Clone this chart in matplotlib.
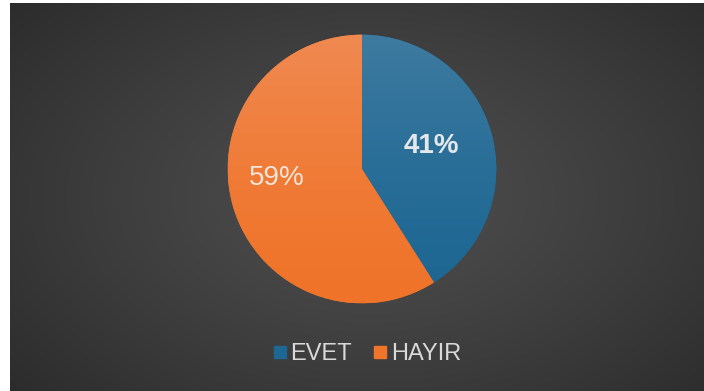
import numpy as np
import matplotlib
matplotlib.use("Agg")
import matplotlib.pyplot as plt
from matplotlib.lines import Line2D

labels = ["EVET", "HAYIR"]
values = [41, 59]
colors = ["#1d6793", "#f0742a"]
top_colors = ["#3f7ba0", "#ef8a52"]

W, H = 704, 391
fig = plt.figure(figsize=(W / 100, H / 100), dpi=100, facecolor="white")

# dark backdrop with a soft radial glow
bg = fig.add_axes([10 / W, 0, (W - 10) / W, (H - 3) / H])
bg.set_axis_off()
yy, xx = np.mgrid[0:1:300j, 0:1:500j]
d = np.sqrt(((xx - 0.52) / 0.75) ** 2 + ((yy - 0.5) / 0.85) ** 2)
d = np.clip(d, 0, 1)
c_in, c_out = 0x4e, 0x28
g = (c_in + (c_out - c_in) * d ** 1.2) / 255.0
bg.imshow(np.dstack([g, g, g]), extent=[0, 1, 0, 1], aspect="auto", origin="lower")
bg.set_xlim(0, 1)
bg.set_ylim(0, 1)

# pie
cx, cy, r = 362, H - 169, 137
ax = fig.add_axes([(cx - r) / W, (cy - r) / H, 2 * r / W, 2 * r / H])
ax.set_axis_off()
wedges, texts, autotexts = ax.pie(
    values, colors=colors, startangle=90, counterclock=False,
    autopct="%.0f%%", pctdistance=0.55, radius=1,
    wedgeprops=dict(linewidth=0),
)
ax.set_xlim(-1.02, 1.02)
ax.set_ylim(-1.02, 1.02)
ax.set_aspect("equal")

# vertical shading inside each slice
ty = np.linspace(0, 1, 256).reshape(-1, 1)
for w, c_bot, c_top in zip(wedges, colors, top_colors):
    a = np.array(matplotlib.colors.to_rgb(c_bot))
    b = np.array(matplotlib.colors.to_rgb(c_top))
    grad = a + (b - a) * ty[..., None] ** 1.5
    grad = np.repeat(grad, 2, axis=1)
    im = ax.imshow(grad, extent=[-1, 1, -1, 1], origin="lower", aspect="auto", zorder=1.5)
    im.set_clip_path(w)

# label placement
label_pos = [(0.545, 18), (0.64, 186)]
styles = [dict(fontweight="bold", color="#e4e8ec"), dict(fontweight="normal", color="#f6e4d6")]
for t, (rad, ang), st in zip(autotexts, label_pos, styles):
    t.set_position((rad * np.cos(np.radians(ang)), rad * np.sin(np.radians(ang))))
    t.set_fontsize(20)
    t.set_fontfamily("Liberation Sans")
    t.set_zorder(3)
    t.set(**st)

handles = [Line2D([0], [0], marker="s", linestyle="none", markersize=8,
                  markerfacecolor=c, markeredgecolor=c) for c in colors]
leg = fig.legend(handles, labels, loc="center", bbox_to_anchor=(367 / W, (H - 354) / H),
                 ncol=2, frameon=False, handlelength=0.6, handletextpad=0.15,
                 columnspacing=0.9, prop={"family": "Liberation Sans", "size": 17})
for t in leg.get_texts():
    t.set_color("#d9d9d9")

fig.savefig("out.png", dpi=100, facecolor="white")
